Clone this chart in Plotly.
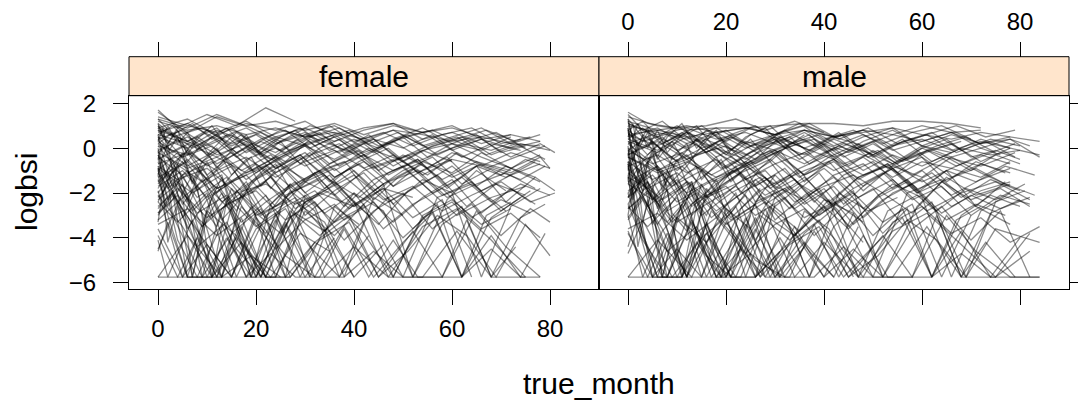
import plotly.graph_objects as go

# ---------------- data (read/estimated from the reference) ----------------
panels = ["female", "male"]
x_ticks = [0, 20, 40, 60, 80]
y_ticks = [2, 0, -2, -4, -6]
y_tick_text = ["2", "0", "\u22122", "\u22124", "\u22126"]

female_months = [
    [0, 6, 12, 18, 24, 30, 36, 42, 48, 54, 60, 66, 72, 78],
    [0, 3, 9, 15, 21, 27, 33, 40, 46, 52],
    [0, 4, 10, 16, 22, 28, 34, 40, 46, 52, 58, 64, 70, 76, 81],
    [0, 5, 11, 17, 23, 29, 35],
    [0, 6, 12, 18, 24, 30, 36, 42, 48, 54, 60, 66, 72],
    [0, 3, 8, 14, 20, 26, 32, 38, 44, 50, 56, 62, 68, 74, 79],
    [0, 2, 7, 13, 19, 25],
    [0, 6, 12, 18, 24, 30, 36, 42, 48, 54, 60, 66, 72, 78],
    [0, 4, 9, 15, 20, 26, 31, 37, 43],
    [0, 6, 12, 19, 25, 31, 37, 44, 50, 56, 62, 68, 74],
    [0, 3, 6, 12, 18, 24, 30, 36, 42, 48, 54, 60, 66, 72, 77],
    [0, 5, 10, 16, 22, 28, 34, 40],
    [0, 6, 12, 18, 24, 30, 36, 42, 48, 54, 60],
    [0, 4, 10, 16, 22, 28, 34, 40, 46, 52, 58, 64, 70, 76, 80],
    [0, 3, 9, 15, 21, 27, 33, 39, 45, 51, 57, 63, 69, 75],
    [0, 7, 13, 20, 26, 33, 39, 46, 52, 59, 65, 71],
    [0, 5, 11, 17, 23, 29, 35, 41, 47, 53, 59, 65, 71, 77],
    [0, 2, 6, 11, 16, 21, 26, 31],
    [0, 6, 12, 18, 24, 30, 36, 42, 48, 54, 60, 66, 72, 78, 81],
    [0, 4, 8, 14, 20, 26, 32, 38, 44, 50, 56, 62, 68, 74],
    [0, 6, 12, 18, 24, 30, 36, 42, 48, 54, 60, 66],
    [0, 3, 8, 13, 19, 24, 30, 36, 42, 48, 54, 60, 66, 72, 78],
    [0, 5, 10, 15, 20, 26, 32, 38, 44, 50, 56, 62, 68, 74, 79],
    [0, 6, 12, 18, 24, 30, 36, 42, 48, 54, 60, 66, 72, 78],
    [0, 4, 9, 14, 19, 24, 29, 34, 39, 44, 49, 54],
    [0, 3, 7, 12, 17, 22, 27, 32, 37, 42, 47, 52, 57, 62, 67, 72],
    [0, 6, 12, 18, 24, 30, 36, 42, 48, 54, 60, 66, 72, 78],
    [0, 5, 10, 16, 22, 28, 34, 40, 46, 52, 58, 64, 70, 76],
    [0, 4, 8, 12, 18, 24, 30, 36],
    [0, 6, 12, 18, 24, 30, 36, 42, 48, 54, 60, 66, 72, 78],
    [0, 3, 9, 15, 21, 27, 33, 39, 45, 51, 57, 63, 69, 75, 80],
    [0, 6, 12, 18, 24, 30, 36, 42, 48, 54, 60, 66, 72],
    [0, 4, 10, 16, 22, 28, 34, 40, 46, 52, 58, 64],
    [0, 6, 12, 18, 24, 30, 36, 42, 48, 54, 60, 66, 72, 78],
    [0, 2, 6, 10, 14, 19, 24, 29, 34, 40, 46],
    [0, 6, 12, 18, 24, 30, 36, 42, 48, 54, 60, 66, 72, 78],
    [0, 5, 11, 17, 23, 29, 35, 41, 47, 53, 59, 65, 71, 77, 81],
    [0, 3, 8, 14, 20, 27, 33, 40, 47, 54, 61, 68, 75],
    [0, 6, 12, 18, 24, 30, 36, 42, 48, 54, 60],
    [0, 4, 9, 15, 21, 27, 33, 39, 45, 51, 57, 63, 69, 75],
    [0, 6, 13, 19, 26, 32, 39, 45, 52, 58, 65, 71, 78],
    [0, 5, 10, 15, 20, 25, 30, 35, 40, 45, 50, 55, 60, 65, 70, 75],
    [0, 3, 7, 11, 16, 21, 26, 31, 36, 41],
    [0, 6, 12, 18, 24, 30, 36, 42, 48, 54, 60, 66, 72, 78, 80],
    [0, 4, 10, 16, 22, 28],
    [0, 6, 12, 18, 24, 30, 36, 42, 48, 54, 60, 66, 72, 78],
    [0, 2, 4, 7, 10, 14, 18, 23, 28, 33, 38, 44, 50, 56, 62, 68, 74],
    [0, 3, 6, 9, 13, 17, 22, 27, 32],
    [0, 2, 5, 9, 13, 18, 23, 28, 34, 40, 47, 54, 61, 68, 75],
    [0, 3, 7, 12, 18, 24, 30, 37, 44, 51, 58, 65, 72],
    [0, 4, 8, 12, 16, 20, 26, 32, 38, 44, 50, 56, 62, 68, 74, 78],
    [0, 2, 5, 8, 12, 16, 21, 26, 31, 37, 43, 49, 55, 61, 67, 73, 79],
    [0, 3, 6, 10, 15, 20, 25, 30, 36, 42],
    [0, 4, 9, 14, 19, 25, 31, 37, 43, 49, 55, 61, 67, 73, 79],
    [0, 2, 5, 9, 14, 19, 24, 30, 36, 42, 48, 54, 60, 66, 72],
    [0, 3, 7, 11, 15, 20, 25, 30, 35, 40, 46, 52, 58, 64, 70, 76],
    [0, 2, 6, 10, 15, 20, 26, 32, 38, 44, 50, 56, 62, 68, 74, 80],
    [0, 4, 8, 13, 18, 23, 28, 33, 38, 43, 48, 53, 58, 63, 68, 73],
    [0, 3, 6, 10, 14, 19, 24, 29, 35, 41, 47, 53, 59, 65, 71, 77],
    [0, 2, 4, 8, 12, 17, 22, 27],
    [0, 3, 7, 12, 17, 22, 28, 34, 40, 46, 52, 58, 64, 70, 76],
    [0, 4, 8, 12, 16, 21, 26, 31, 36, 42, 48, 54, 60, 66, 72, 78],
    [0, 3, 6, 9, 13, 18, 24, 30, 36, 43, 50, 57, 64, 71],
    [0, 5, 10, 15, 20, 25, 30, 35, 40, 45, 50, 55, 60, 65, 70, 75, 80],
    [0, 2, 6, 11, 16, 22, 28, 34, 40, 47, 54, 61, 68, 75],
    [0, 3, 7, 11, 16, 21, 26, 32, 38, 44, 50, 56, 62, 68, 74, 80],
    [0, 2, 5, 9, 13, 17, 22, 27, 32, 38, 44, 50],
    [0, 4, 9, 14, 20, 26, 32, 38, 44, 50, 56, 62, 68, 74, 79],
    [0, 3, 6, 10, 15, 20, 25, 31, 37, 43, 49, 55, 61, 67, 73],
    [0, 2, 5, 8, 12, 16, 20, 25, 30, 35, 41, 47, 53, 59, 65, 71, 77],
    [0, 1, 2, 3, 5, 7, 9, 12, 15, 18, 21, 24],
    [0, 1, 3, 4, 6, 8, 10, 13, 16, 19, 22, 26, 30],
    [0, 1, 2, 4, 6, 8, 11, 14, 17, 20, 24, 28, 32, 36],
    [0, 1, 3, 5, 7, 10, 13, 16, 19, 23, 27],
    [0, 2, 3, 5, 7, 9, 12, 15, 18, 22, 26, 30, 35],
    [0, 1, 2, 4, 6, 9, 12, 15, 18, 21, 25, 29, 33, 37, 41],
    [0, 1, 3, 5, 8, 11, 14, 18, 22, 26, 30],
    [0, 2, 4, 6, 8, 11, 14, 17, 21, 25, 29, 33],
    [0, 1, 2, 4, 7, 10, 13, 17, 21, 25],
    [0, 1, 3, 5, 7, 9, 12, 15, 19, 23, 27, 31, 36, 41, 46],
]
female_logbsi = [
    [1.2, 0.8, 1.0, 0.6, 0.9, 0.5, 0.7, 0.4, 0.8, 0.6, 0.3, 0.5, 0.2, 0.1],
    [0.4, -0.6, -1.5, -2.8, -5.75, -3.1, -2.0, -2.6, -1.8, -2.2],
    [-0.8, -1.4, -0.9, -2.0, -1.6, -2.5, -1.9, -1.2, -2.3, -1.7, -2.8, -2.1, -1.5, -2.4, -2.0],
    [-2.1, -3.5, -5.75, -4.2, -5.75, -3.8, -4.6],
    [0.9, 1.3, 0.6, 1.1, 0.8, 1.2, 0.5, 0.9, 1.1, 0.7, 1.0, 0.4, 0.6],
    [-1.5, -0.7, -2.2, -1.3, -3.0, -2.4, -1.1, -0.6, -1.9, -1.0, -0.4, -1.6, -0.9, -1.4, -0.8],
    [-4.1, -5.75, -3.2, -5.75, -4.8, -5.75],
    [0.1, -0.3, 0.4, -0.5, 0.0, -0.8, -0.2, 0.3, -0.6, -0.1, 0.2, -0.4, -0.9, -0.3],
    [-3.2, -2.4, -4.0, -5.75, -3.6, -2.7, -4.4, -5.75, -3.9],
    [1.6, 0.7, 1.4, 0.9, 0.3, 1.0, 0.6, -0.2, 0.5, 0.8, 0.2, -0.1, 0.4],
    [-0.3, -1.1, -0.5, -1.8, -1.2, -2.6, -1.5, -0.9, -2.0, -3.3, -2.2, -1.4, -2.9, -1.8, -2.5],
    [-1.9, -5.75, -2.8, -3.9, -5.75, -2.4, -3.3, -5.75],
    [0.6, 0.2, -0.4, 0.3, -0.9, -0.2, -1.3, -0.6, -1.7, -1.0, -0.5],
    [-2.6, -1.8, -3.1, -2.3, -1.5, -2.9, -3.7, -2.0, -2.8, -5.75, -3.4, -2.5, -3.9, -2.7, -3.3],
    [1.0, 0.5, 0.9, 0.2, 0.7, -0.1, 0.4, 0.8, 0.1, 0.6, -0.3, 0.3, 0.7, 0.0],
    [-0.9, -2.0, -1.2, -5.75, -2.1, -1.4, -2.7, -1.6, -5.75, -2.3, -1.0, -1.9],
    [0.3, -0.4, 0.1, -1.0, -0.3, -1.6, -0.7, -0.1, -1.2, -0.5, -1.8, -0.8, -1.3, -0.6],
    [-1.2, -3.0, -5.75, -2.2, -4.5, -5.75, -3.4, -5.75],
    [-0.1, 0.5, -0.3, 0.2, -0.6, 0.1, 0.6, -0.2, 0.3, -0.5, 0.0, 0.4, -0.4, 0.2, -0.2],
    [-2.3, -1.6, -2.9, -2.1, -3.5, -2.6, -1.9, -3.2, -2.4, -4.0, -2.8, -5.75, -3.1, -2.2],
    [1.3, 0.9, 1.5, 1.0, 1.2, 0.8, 1.1, 0.6, 1.0, 0.7, 0.9, 0.5],
    [-0.5, -1.7, -0.8, -2.4, -1.5, -0.7, -3.0, -1.9, -1.1, -2.5, -1.4, -2.0, -5.75, -2.6, -1.8],
    [-3.6, -5.75, -4.3, -5.75, -3.1, -4.8, -5.75, -3.5, -5.75, -4.2, -2.9, -5.75, -4.5, -5.75, -3.8],
    [0.7, 1.1, 0.4, 0.9, 0.2, 0.6, 1.0, 0.3, 0.8, 0.1, 0.5, 0.9, 0.2, 0.6],
    [-1.0, -0.2, -1.5, -0.6, -2.0, -1.1, -0.4, -1.8, -0.9, -2.3, -1.3, -0.7],
    [-2.9, -2.0, -3.4, -5.75, -2.6, -3.8, -1.9, -2.8, -5.75, -3.3, -2.2, -3.6, -2.5, -5.75, -3.0, -2.4],
    [0.2, -0.8, -0.1, -1.4, -0.5, 0.1, -1.0, -0.3, -1.7, -0.6, -1.1, -0.2, -0.9, -1.5],
    [-1.7, -1.0, -2.2, -1.4, -0.8, -1.9, -1.2, -2.6, -1.6, -0.9, -2.1, -1.5, -2.8, -1.9],
    [1.1, 0.4, -0.8, -2.5, -5.75, -3.2, -5.75, -4.0],
    [-0.7, -0.2, -1.0, -0.4, -1.3, -0.6, -0.1, -0.9, -0.3, -1.2, -0.5, -0.8, -0.2, -0.6],
    [-4.5, -3.0, -5.75, -3.8, -2.7, -5.75, -4.1, -3.3, -5.75, -4.6, -3.0, -3.9, -5.75, -3.4, -4.8],
    [0.5, 0.0, 0.8, 0.3, -0.2, 0.6, 0.1, -0.4, 0.4, 0.9, 0.2, -0.1, 0.5],
    [-2.4, -3.3, -2.0, -5.75, -3.0, -2.2, -3.7, -2.5, -1.8, -3.1, -2.3, -5.75],
    [-1.3, -0.6, -1.8, -1.1, -0.4, -1.5, -2.1, -1.0, -0.5, -1.6, -0.8, -1.9, -1.2, -0.7],
    [0.0, -1.5, -3.2, -5.75, -4.0, -5.75, -2.9, -5.75, -3.6, -5.75, -4.3],
    [1.4, 1.0, 0.7, 1.2, 0.5, 0.9, 0.3, 0.8, 1.1, 0.4, 0.7, 0.2, 0.6, 0.3],
    [-0.4, -1.2, -0.6, -1.9, -0.9, -0.3, -1.4, -2.2, -1.1, -0.5, -1.7, -0.8, -2.4, -1.3, -1.9],
    [-3.0, -2.1, -4.4, -3.3, -5.75, -2.8, -3.9, -2.4, -5.75, -3.5, -2.7, -4.1, -5.75],
    [0.8, 0.3, 0.9, -0.2, 0.5, 0.1, -0.5, 0.2, -0.8, -0.1, -0.6],
    [-1.1, -2.4, -1.5, -0.8, -2.9, -1.7, -1.0, -2.2, -3.4, -1.9, -1.2, -2.6, -1.6, -2.1],
    [-5.75, -3.9, -5.75, -2.6, -5.75, -4.2, -3.0, -5.75, -3.7, -5.75, -2.8, -4.4, -5.75],
    [0.4, 0.8, 0.1, 0.6, -0.3, 0.3, 0.7, -0.1, 0.4, 0.0, 0.5, -0.4, 0.2, 0.6, -0.2, 0.1],
    [-2.0, -1.1, -2.7, -5.75, -1.9, -3.0, -2.3, -5.75, -2.6, -3.4],
    [-0.2, -0.9, -0.4, -1.1, -0.6, -1.4, -0.8, -0.3, -1.0, -0.5, -1.3, -0.7, -1.1, -0.4, -0.9],
    [1.7, 0.9, 1.5, 1.0, 1.8, 1.2],
    [-3.4, -2.7, -3.9, -2.9, -4.5, -3.2, -2.5, -3.8, -5.75, -3.1, -2.4, -3.6, -2.9, -4.0],
    [0.8, 0.2, 0.9, 0.4, -0.3, 0.6, 0.1, -0.5, 0.3, 0.7, -0.2, 0.4, 0.0, 0.6, -0.4, 0.2, -0.1],
    [-0.6, -2.0, -5.75, -5.75, -5.75, -3.1, -5.75, -5.75, -4.2],
    [-1.8, -1.1, -2.5, -1.4, -3.2, -2.0, -1.3, -2.7, -1.9, -1.0, -2.4, -1.6, -3.0, -2.2, -1.7],
    [0.5, -0.2, 0.3, -0.7, 0.0, -1.1, -0.4, 0.2, -0.9, -0.3, -1.4, -0.6, -1.0],
    [-5.75, -5.75, -4.0, -5.75, -5.75, -5.75, -3.3, -5.75, -5.75, -4.6, -5.75, -5.75, -5.75, -3.9, -5.75, -5.75],
    [1.0, 0.3, -0.4, 0.5, -0.1, 0.7, 0.0, -0.6, 0.4, -0.2, 0.6, -0.5, 0.1, 0.5, -0.3, 0.2, -0.5],
    [-2.7, -1.9, -3.6, -2.3, -5.75, -2.9, -3.8, -2.1, -3.3, -2.6],
    [-0.2, 0.4, -0.6, 0.1, -1.0, -0.3, 0.3, -0.8, 0.0, -0.5, -1.2, -0.2, -0.9, -0.4, 0.1],
    [-1.4, -2.6, -1.6, -3.5, -2.2, -5.75, -5.75, -2.8, -3.9, -2.5, -5.75, -3.0, -2.3, -3.4, -2.7],
    [1.3, 0.6, 1.1, 0.4, 0.9, 0.2, 0.8, 0.5, 1.0, 0.3, 0.7, 0.1, 0.6, 0.9, 0.2, 0.5],
    [-0.9, -1.8, -1.0, -2.3, -1.5, -0.7, -1.9, -1.1, -2.6, -1.4, -0.8, -2.0, -1.3, -2.4, -1.6, -2.1],
    [-3.9, -5.75, -5.75, -3.4, -5.75, -4.7, -5.75, -5.75, -3.6, -5.75, -4.1, -5.75, -5.75, -3.2, -5.75, -4.4],
    [0.1, -0.7, -0.1, -1.2, -0.5, 0.2, -0.9, -0.3, -1.5, -0.6, 0.0, -1.1, -0.4, -1.7, -0.8, -1.3],
    [-0.8, -2.2, -4.1, -5.75, -5.75, -3.5, -5.75, -5.75],
    [-2.2, -1.4, -2.8, -1.7, -3.3, -2.4, -1.5, -2.9, -2.0, -3.6, -2.5, -1.8, -3.1, -2.3, -2.9],
    [0.9, 0.5, 0.1, 0.6, -0.2, 0.4, 0.8, 0.0, 0.5, -0.3, 0.3, 0.7, -0.1, 0.4, 0.0, 0.3],
    [-1.6, -0.9, -2.1, -5.75, -2.7, -1.8, -5.75, -2.4, -1.5, -3.0, -5.75, -2.2, -1.6, -2.8],
    [-0.5, 0.1, -0.8, -0.2, -1.1, -0.4, 0.2, -0.7, -0.1, -1.0, -0.3, -0.9, -0.2, -0.6, -1.2, -0.5, -0.9],
    [-4.6, -3.3, -5.75, -5.75, -4.0, -5.75, -2.9, -5.75, -4.4, -5.75, -5.75, -3.7, -5.75, -5.75],
    [0.2, 0.7, 0.0, 0.5, -0.4, 0.3, -0.2, 0.6, -0.1, 0.4, -0.6, 0.1, 0.5, -0.3, 0.2, -0.1],
    [-1.0, -2.3, -1.2, -2.9, -5.75, -2.0, -3.1, -1.6, -2.6, -5.75, -2.2, -3.0],
    [-2.9, -2.1, -3.5, -2.5, -1.9, -3.2, -2.4, -4.1, -2.8, -2.0, -3.6, -2.6, -5.75, -3.1, -2.5],
    [0.6, 1.0, 0.3, 0.8, 0.1, 0.6, -0.1, 0.5, 0.9, 0.2, 0.7, 0.0, 0.4, 0.8, 0.3],
    [-0.3, -1.3, -0.6, -1.9, -1.0, -2.4, -1.4, -0.8, -2.0, -1.2, -2.7, -1.5, -1.0, -2.2, -1.6, -1.1, -1.8],
    [0.6, -0.4, 0.2, -1.1, -0.3, -1.6, -0.8, -2.0, -1.2, -0.5, -1.7, -1.0],
    [-1.2, -0.3, -1.8, -0.7, -2.4, -1.3, -0.6, -1.9, -2.8, -1.5, -0.9, -2.2, -1.4],
    [1.1, 0.5, 1.0, 0.2, 0.7, -0.1, 0.5, 0.9, 0.3, -0.2, 0.4, 0.8, 0.1, 0.5],
    [-0.1, -1.4, -0.5, -2.1, -5.75, -2.7, -1.3, -3.4, -5.75, -2.5, -1.6],
    [-2.4, -1.5, -3.0, -2.0, -1.2, -2.6, -3.5, -1.8, -2.9, -2.1, -3.8, -2.4, -1.9],
    [0.3, 0.9, -0.2, 0.5, -0.6, 0.2, -0.9, -0.1, 0.6, -0.4, 0.3, -0.7, 0.0, 0.4, -0.3],
    [-0.9, -2.0, -1.0, -3.1, -1.7, -5.75, -2.4, -1.5, -3.0, -5.75, -2.2],
    [0.9, 0.2, 0.8, -0.3, 0.4, 1.0, 0.1, 0.6, -0.2, 0.5, 0.9, 0.3],
    [-3.3, -1.9, -4.2, -2.6, -5.75, -3.1, -2.0, -4.0, -5.75, -2.8],
    [-0.5, 0.2, -0.9, -0.2, -1.5, -0.6, 0.0, -1.2, -0.4, -1.8, -0.8, -0.2, -1.3, -0.7, -1.6],
]

male_months = [
    [0, 6, 12, 18, 24, 30, 36, 42, 48, 54, 60, 66, 72],
    [0, 2, 6, 12, 18, 24, 30, 36, 42, 48],
    [0, 4, 10, 16, 22, 28, 34, 40, 46, 52, 58, 64, 70, 76, 82],
    [0, 6, 12, 18, 24, 30, 36, 42, 48, 54, 60, 66, 72, 78, 84],
    [0, 3, 8, 13, 19, 25, 31],
    [0, 6, 12, 18, 24, 30, 36, 42, 48, 54, 60, 66, 72, 78],
    [0, 5, 10, 15, 21, 27, 33, 39, 45, 51, 57, 63, 69, 75, 81],
    [0, 4, 9, 14, 20, 26, 32, 38, 44, 50, 56, 62, 68],
    [0, 3, 7, 12, 17, 22, 27, 32, 37, 42, 47],
    [0, 6, 12, 18, 24, 30, 36, 42, 48, 54, 60, 66, 72, 78, 84],
    [0, 3, 6, 12, 18, 24, 30, 36, 42, 48, 54, 60, 66, 72, 78],
    [0, 5, 10, 16, 22, 28, 34, 40, 46],
    [0, 6, 12, 18, 24, 30, 36, 42, 48, 54, 60, 66, 72, 76],
    [0, 4, 10, 16, 22, 28, 34, 40, 46, 52, 58, 64, 70, 76, 82],
    [0, 3, 9, 15, 21, 27, 33, 39, 45, 51, 57, 63, 69, 75],
    [0, 7, 13, 20, 26, 33, 39, 46, 52, 59, 65, 71, 78],
    [0, 5, 11, 17, 23, 29, 35, 41, 47, 53, 59, 65, 71, 77, 83],
    [0, 2, 6, 11, 16, 21, 26, 31, 36],
    [0, 6, 12, 18, 24, 30, 36, 42, 48, 54, 60, 66, 72, 78],
    [0, 4, 8, 14, 20, 26, 32, 38, 44, 50, 56, 62, 68, 74, 80],
    [0, 6, 12, 18, 24, 30, 36, 42, 48, 54, 60, 66, 72],
    [0, 3, 8, 13, 19, 24, 30, 36, 42, 48, 54, 60, 66, 72, 78],
    [0, 5, 10, 15, 20, 26, 32, 38, 44, 50, 56, 62, 68, 74, 80],
    [0, 6, 12, 18, 24, 30, 36, 42, 48, 54, 60, 66, 72, 78, 82],
    [0, 4, 9, 14, 19, 24, 29, 34, 39, 44, 49, 54, 59],
    [0, 3, 7, 12, 17, 22, 27, 32, 37, 42, 47, 52, 57, 62, 67, 72],
    [0, 6, 12, 18, 24, 30, 36, 42, 48, 54, 60, 66, 72, 78],
    [0, 5, 10, 16, 22, 28, 34, 40, 46, 52, 58, 64, 70, 76, 82],
    [0, 4, 8, 12, 18, 24, 30, 36, 42],
    [0, 6, 12, 18, 24, 30, 36, 42, 48, 54, 60, 66, 72, 78],
    [0, 3, 9, 15, 21, 27, 33, 39, 45, 51, 57, 63, 69, 75, 84],
    [0, 6, 12, 18, 24, 30, 36, 42, 48, 54, 60, 66, 72, 78],
    [0, 4, 10, 16, 22, 28, 34, 40, 46, 52, 58, 64, 70],
    [0, 6, 12, 18, 24, 30, 36, 42, 48, 54, 60, 66, 72, 78],
    [0, 2, 6, 10, 14, 19, 24, 29, 34, 40, 46, 52],
    [0, 6, 12, 18, 24, 30, 36, 42, 48, 54, 60, 66, 72, 78, 84],
    [0, 5, 11, 17, 23, 29, 35, 41, 47, 53, 59, 65, 71, 77],
    [0, 3, 8, 14, 20, 27, 33, 40, 47, 54, 61, 68, 75, 82],
    [0, 6, 12, 18, 24, 30, 36, 42, 48, 54, 60, 66],
    [0, 4, 9, 15, 21, 27, 33, 39, 45, 51, 57, 63, 69, 75, 81],
    [0, 6, 13, 19, 26, 32, 39, 45, 52, 58, 65, 71, 78, 84],
    [0, 5, 10, 15, 20, 25, 30, 35, 40, 45, 50, 55, 60, 65, 70, 75, 80],
    [0, 3, 7, 11, 16, 21, 26, 31, 36, 41, 46],
    [0, 6, 12, 18, 24, 30, 36, 42, 48, 54, 60, 66, 72, 78],
    [0, 4, 10, 16, 22, 28, 34, 40],
    [0, 6, 12, 18, 24, 30, 36, 42, 48, 54, 60, 66, 72, 78, 84],
    [0, 1, 3, 6, 10, 14, 18, 23, 28, 33, 38, 44, 50, 56, 62, 68, 74, 80],
    [0, 2, 5, 8, 12, 16, 21, 26, 31, 36],
    [0, 2, 5, 9, 13, 18, 23, 28, 34, 40, 47, 54, 61, 68, 75, 82],
    [0, 3, 7, 12, 18, 24, 30, 37, 44, 51, 58, 65, 72, 79],
    [0, 4, 8, 12, 16, 20, 26, 32, 38, 44, 50, 56, 62, 68, 74, 80, 84],
    [0, 1, 4, 8, 12, 16, 21, 26, 31, 37, 43, 49, 55, 61, 67, 73, 79],
    [0, 2, 6, 10, 15, 20, 25, 30, 36, 42, 48],
    [0, 4, 9, 14, 19, 25, 31, 37, 43, 49, 55, 61, 67, 73, 79],
    [0, 1, 4, 8, 13, 18, 23, 29, 35, 41, 47, 53, 59, 65, 71, 77],
    [0, 3, 7, 11, 15, 20, 25, 30, 35, 40, 46, 52, 58, 64, 70],
    [0, 2, 6, 10, 15, 20, 26, 32, 38, 44, 50, 56, 62, 68, 74, 80],
    [0, 4, 8, 13, 18, 23, 28, 33, 38, 43, 48, 53, 58, 63, 68, 73, 79],
    [0, 3, 6, 10, 14, 19, 24, 29, 35, 41, 47, 53, 59, 65, 71, 77],
    [0, 1, 3, 7, 11, 16, 21, 26, 31],
    [0, 3, 7, 12, 17, 22, 28, 34, 40, 46, 52, 58, 64, 70, 76, 82],
    [0, 4, 8, 12, 16, 21, 26, 31, 36, 42, 48, 54, 60, 66, 72, 78],
    [0, 1, 4, 8, 13, 18, 24, 30, 36, 43, 50, 57, 64, 71, 78],
    [0, 5, 10, 15, 20, 25, 30, 35, 40, 45, 50, 55, 60, 65, 70, 75, 80],
    [0, 2, 6, 11, 16, 22, 28, 34, 40, 47, 54, 61, 68, 75, 82],
    [0, 3, 7, 11, 16, 21, 26, 32, 38, 44, 50, 56, 62, 68, 74, 80],
    [0, 1, 4, 8, 12, 16, 21, 26, 31, 37, 43, 49, 55],
    [0, 4, 9, 14, 20, 26, 32, 38, 44, 50, 56, 62, 68, 74, 80],
    [0, 3, 6, 10, 15, 20, 25, 31, 37, 43, 49, 55, 61, 67, 73, 79],
    [0, 2, 5, 8, 12, 16, 20, 25, 30, 35, 41, 47, 53, 59, 65, 71, 77, 83],
    [0, 1, 2, 3, 5, 7, 9, 12, 15, 18, 21, 24],
    [0, 1, 3, 4, 6, 8, 10, 13, 16, 19, 22, 26, 30],
    [0, 1, 2, 4, 6, 8, 11, 14, 17, 20, 24, 28, 32, 36],
    [0, 1, 3, 5, 7, 10, 13, 16, 19, 23, 27],
    [0, 2, 3, 5, 7, 9, 12, 15, 18, 22, 26, 30, 35],
    [0, 1, 2, 4, 6, 9, 12, 15, 18, 21, 25, 29, 33, 37, 41],
    [0, 1, 3, 5, 8, 11, 14, 18, 22, 26, 30],
    [0, 2, 4, 6, 8, 11, 14, 17, 21, 25, 29, 33],
    [0, 1, 2, 4, 7, 10, 13, 17, 21, 25],
    [0, 1, 3, 5, 7, 9, 12, 15, 19, 23, 27, 31, 36, 41, 46],
]
male_logbsi = [
    [1.4, 1.0, 0.8, 0.9, 0.9, 1.0, 1.1, 1.1, 1.0, 1.2, 1.2, 1.1, 0.9],
    [0.9, -1.2, -2.6, -5.75, -3.4, -2.1, -5.75, -3.8, -2.7, -4.2],
    [-1.3, -1.8, -1.1, -2.2, -1.6, -1.0, -2.4, -1.7, -1.2, -2.0, -2.9, -1.5, -2.3, -1.8, -2.6],
    [0.6, 0.8, 0.5, 0.7, 0.9, 0.6, 0.8, 0.5, 0.7, 0.9, 0.6, 0.4, 0.7, 0.5, 0.3],
    [-2.5, -4.1, -5.75, -3.3, -5.75, -4.7, -5.75],
    [-0.4, -1.0, -0.5, -1.5, -0.8, -0.2, -1.2, -0.6, -1.7, -0.9, -0.4, -1.3, -0.7, -1.1],
    [-1.6, -2.3, -1.4, -3.0, -2.0, -1.3, -2.7, -1.8, -3.5, -2.2, -1.5, -2.8, -5.75, -2.4, -1.9],
    [0.2, -0.5, 0.3, -0.3, 0.1, -0.7, 0.0, 0.4, -0.4, 0.2, -0.6, -0.1, 0.3],
    [-3.0, -5.75, -3.7, -2.4, -5.75, -4.0, -5.75, -3.2, -4.6, -5.75, -3.5],
    [1.1, 0.6, 0.9, 0.4, 0.7, 0.2, 0.8, 0.5, 0.1, 0.6, 0.3, 0.7, 0.2, 0.4, -0.4],
    [-0.9, -1.6, -2.4, -1.5, -2.8, -1.9, -1.2, -2.5, -1.7, -3.1, -2.0, -1.4, -2.6, -1.9, -1.5],
    [-2.0, -5.75, -3.1, -4.2, -2.6, -5.75, -3.5, -5.75, -2.9],
    [0.3, -0.2, 0.5, 0.0, -0.5, 0.2, -0.3, 0.4, -0.1, -0.7, 0.1, -0.4, 0.0, -0.3],
    [-2.7, -2.0, -3.3, -2.5, -1.7, -3.0, -3.9, -2.3, -2.9, -5.75, -3.6, -2.6, -4.1, -2.8, -5.75],
    [0.8, 0.3, 0.7, 0.0, 0.5, -0.3, 0.2, 0.6, -0.1, 0.4, -0.5, 0.1, 0.5, -0.2],
    [-1.1, -2.3, -1.5, -5.75, -2.4, -1.7, -3.0, -1.9, -5.75, -2.6, -1.3, -2.1, -1.6],
    [-0.1, -0.7, -0.2, -1.2, -0.5, -1.8, -0.9, -0.3, -1.4, -0.7, -2.0, -1.0, -1.5, -0.8, -1.2],
    [-1.4, -3.3, -5.75, -2.5, -4.8, -5.75, -3.6, -5.75, -4.4],
    [-0.3, 0.3, -0.5, 0.0, -0.8, -0.1, 0.4, -0.4, 0.1, -0.7, -0.2, 0.2, -0.6, 0.0],
    [-2.2, -1.5, -2.8, -2.0, -3.4, -2.5, -1.8, -3.1, -2.3, -3.9, -2.7, -5.75, -3.0, -2.1, -2.6],
    [1.2, 0.8, 1.0, 0.7, 0.9, 0.6, 1.0, 0.5, 0.8, 0.6, 1.0, 0.7, 0.8],
    [-0.6, -1.9, -1.0, -2.6, -1.7, -0.9, -3.2, -2.1, -1.3, -2.7, -1.6, -2.2, -5.75, -2.8, -2.0],
    [-3.8, -5.75, -4.5, -5.75, -3.3, -5.0, -5.75, -3.7, -5.75, -4.4, -3.1, -5.75, -4.7, -5.75, -4.0],
    [0.5, 0.9, 0.2, 0.7, 0.0, 0.4, 0.8, 0.1, 0.6, -0.1, 0.3, 0.7, 0.0, 0.4, 0.1],
    [-1.2, -0.4, -1.7, -0.8, -2.2, -1.3, -0.6, -2.0, -1.1, -2.5, -1.5, -0.9, -1.8],
    [-3.1, -2.2, -3.6, -5.75, -2.8, -4.0, -2.1, -3.0, -5.75, -3.5, -2.4, -3.8, -2.7, -5.75, -3.2, -2.6],
    [0.0, -1.0, -0.3, -1.6, -0.7, -0.1, -1.2, -0.5, -1.9, -0.8, -1.3, -0.4, -1.1, -1.7],
    [-1.9, -1.2, -2.4, -1.6, -1.0, -2.1, -1.4, -2.8, -1.8, -1.1, -2.3, -1.7, -3.0, -2.1, -2.5],
    [1.3, 0.2, -1.0, -2.7, -5.75, -3.4, -5.75, -4.2, -5.75],
    [-0.8, -0.3, -1.1, -0.5, -1.4, -0.7, -0.2, -1.0, -0.4, -1.3, -0.6, -0.9, -0.3, -0.7],
    [-4.7, -3.2, -5.75, -4.0, -2.9, -5.75, -4.3, -3.5, -5.75, -4.8, -3.2, -4.1, -5.75, -3.6, -4.2],
    [0.4, -0.1, 0.7, 0.2, -0.3, 0.5, 0.0, -0.5, 0.3, 0.8, 0.1, -0.2, 0.4, 0.0],
    [-2.6, -3.5, -2.2, -5.75, -3.2, -2.4, -3.9, -2.7, -2.0, -3.3, -2.5, -5.75, -3.0],
    [-1.5, -0.8, -2.0, -1.3, -0.6, -1.7, -2.3, -1.2, -0.7, -1.8, -1.0, -2.1, -1.4, -0.9],
    [-0.2, -1.7, -3.4, -5.75, -4.2, -5.75, -3.1, -5.75, -3.8, -5.75, -4.5, -5.75],
    [1.0, 0.7, 0.4, 0.9, 0.2, 0.6, 0.0, 0.5, 0.8, 0.1, 0.4, -0.1, 0.3, 0.0, -0.3],
    [-0.6, -1.4, -0.8, -2.1, -1.1, -0.5, -1.6, -2.4, -1.3, -0.7, -1.9, -1.0, -2.6, -1.5],
    [-3.2, -2.3, -4.6, -3.5, -5.75, -3.0, -4.1, -2.6, -5.75, -3.7, -2.9, -4.3, -5.75, -3.8],
    [0.6, 0.1, 0.7, -0.4, 0.3, -0.1, -0.7, 0.0, -1.0, -0.3, -0.8, -0.2],
    [-1.3, -2.6, -1.7, -1.0, -3.1, -1.9, -1.2, -2.4, -3.6, -2.1, -1.4, -2.8, -1.8, -2.3, -1.6],
    [-5.75, -4.1, -5.75, -2.8, -5.75, -4.4, -3.2, -5.75, -3.9, -5.75, -3.0, -4.6, -5.75, -5.75],
    [0.2, 0.6, -0.1, 0.4, -0.5, 0.1, 0.5, -0.3, 0.2, -0.2, 0.3, -0.6, 0.0, 0.4, -0.4, -0.1, -0.5],
    [-2.2, -1.3, -2.9, -5.75, -2.1, -3.2, -2.5, -5.75, -2.8, -3.6, -5.75],
    [-0.4, -1.1, -0.6, -1.3, -0.8, -1.6, -1.0, -0.5, -1.2, -0.7, -1.5, -0.9, -1.3, -0.6],
    [1.6, 1.1, 0.9, 1.0, 1.3, 0.8, 1.2, 0.7],
    [-3.6, -2.9, -4.1, -3.1, -4.7, -3.4, -2.7, -4.0, -5.75, -3.3, -2.6, -3.8, -3.1, -4.2, -3.5],
    [0.9, -0.5, 0.6, 0.1, -0.6, 0.4, -0.2, -0.8, 0.1, 0.5, -0.4, 0.2, -0.3, 0.4, -0.6, 0.0, -0.3, -0.1],
    [-0.3, -2.4, -5.75, -5.75, -5.75, -3.4, -5.75, -5.75, -4.0, -5.75],
    [-1.6, -0.9, -2.3, -1.2, -3.0, -1.8, -1.1, -2.5, -1.7, -0.9, -2.2, -1.4, -2.8, -2.0, -1.5, -2.3],
    [0.7, 0.0, 0.5, -0.5, 0.2, -0.9, -0.2, 0.4, -0.7, -0.1, -1.2, -0.4, -0.8, -0.2],
    [-5.75, -5.75, -3.8, -5.75, -5.75, -5.75, -3.1, -5.75, -5.75, -4.4, -5.75, -5.75, -5.75, -3.7, -5.75, -5.75, -5.75],
    [1.2, 0.4, -0.3, 0.6, 0.0, 0.8, 0.1, -0.5, 0.5, -0.1, 0.7, -0.4, 0.2, 0.6, -0.2, 0.3, -0.4],
    [-2.5, -1.7, -3.4, -2.1, -5.75, -2.7, -3.6, -1.9, -3.1, -2.4, -3.3],
    [-0.1, 0.5, -0.5, 0.2, -0.9, -0.2, 0.4, -0.7, 0.1, -0.4, -1.1, -0.1, -0.8, -0.3, 0.2],
    [-1.2, -2.8, -1.5, -3.3, -2.0, -5.75, -5.75, -2.6, -3.7, -2.3, -5.75, -2.8, -2.1, -3.2, -2.5, -3.0],
    [1.5, 0.8, 1.2, 0.5, 1.0, 0.3, 0.9, 0.6, 1.1, 0.4, 0.8, 0.2, 0.7, 1.0, 0.4],
    [-0.7, -1.6, -0.8, -2.1, -1.3, -0.5, -1.7, -0.9, -2.4, -1.2, -0.6, -1.8, -1.1, -2.2, -1.4, -1.9],
    [-3.7, -5.75, -5.75, -3.2, -5.75, -4.5, -5.75, -5.75, -3.4, -5.75, -3.9, -5.75, -5.75, -3.0, -5.75, -4.2, -5.75],
    [0.3, -0.5, 0.1, -1.0, -0.3, 0.4, -0.7, -0.1, -1.3, -0.4, 0.2, -0.9, -0.2, -1.5, -0.6, -1.1],
    [-0.6, -2.0, -3.9, -5.75, -5.75, -3.3, -5.75, -5.75, -4.6],
    [-2.0, -1.2, -2.6, -1.5, -3.1, -2.2, -1.3, -2.7, -1.8, -3.4, -2.3, -1.6, -2.9, -2.1, -2.7, -2.2],
    [1.1, 0.7, 0.3, 0.8, 0.0, 0.6, 1.0, 0.2, 0.7, -0.1, 0.5, 0.9, 0.1, 0.6, 0.2, 0.5],
    [-1.4, -0.4, -1.9, -5.75, -2.5, -1.6, -5.75, -2.2, -1.3, -2.8, -5.75, -2.0, -1.4, -2.6, -3.4],
    [-0.3, 0.3, -0.6, 0.0, -0.9, -0.2, 0.4, -0.5, 0.1, -0.8, -0.1, -0.7, 0.0, -0.4, -1.0, -0.3, -0.7],
    [-4.4, -3.1, -5.75, -5.75, -3.8, -5.75, -2.7, -5.75, -4.2, -5.75, -5.75, -3.5, -5.75, -5.75, -4.6],
    [0.4, 0.9, 0.2, 0.7, -0.2, 0.5, 0.0, 0.8, 0.1, 0.6, -0.4, 0.3, 0.7, -0.1, 0.4, 0.1],
    [-0.8, -2.1, -1.0, -2.7, -5.75, -1.8, -2.9, -1.4, -2.4, -5.75, -2.0, -2.8, -2.2],
    [-2.7, -1.9, -3.3, -2.3, -1.7, -3.0, -2.2, -3.9, -2.6, -1.8, -3.4, -2.4, -5.75, -2.9, -2.3],
    [0.8, 1.2, 0.5, 1.0, 0.3, 0.8, 0.1, 0.7, 1.1, 0.4, 0.9, 0.2, 0.6, 1.0, 0.5, 0.8],
    [-0.1, -1.1, -0.4, -1.7, -0.8, -2.2, -1.2, -0.6, -1.8, -1.0, -2.5, -1.3, -0.8, -2.0, -1.4, -0.9, -1.6, -2.1],
    [0.8, -0.6, 0.3, -1.3, -0.2, -1.9, -0.7, -2.3, -1.0, -0.4, -1.5, -0.9],
    [-1.0, -0.1, -2.0, -0.6, -2.7, -1.4, -0.5, -2.1, -3.0, -1.6, -0.8, -2.4, -1.2],
    [1.3, 0.4, 1.1, 0.0, 0.8, -0.2, 0.6, 1.0, 0.2, -0.3, 0.5, 0.9, 0.0, 0.6],
    [0.1, -1.7, -0.6, -2.4, -5.75, -3.0, -1.5, -3.6, -5.75, -2.7, -1.8],
    [-2.2, -1.3, -3.2, -1.8, -1.0, -2.9, -3.7, -1.6, -3.1, -2.0, -4.1, -2.6, -1.7],
    [0.5, 1.1, -0.1, 0.7, -0.5, 0.3, -0.8, 0.1, 0.8, -0.3, 0.4, -0.6, 0.2, 0.6, -0.2],
    [-0.7, -2.3, -1.1, -3.4, -1.8, -5.75, -2.6, -1.4, -3.3, -5.75, -2.5],
    [1.0, 0.1, 0.9, -0.4, 0.5, 1.1, 0.0, 0.7, -0.1, 0.6, 1.0, 0.2],
    [-3.0, -1.7, -4.4, -2.3, -5.75, -3.3, -1.8, -4.2, -5.75, -3.0],
    [-0.3, 0.4, -1.1, -0.1, -1.7, -0.4, 0.2, -1.4, -0.5, -2.0, -0.9, -0.1, -1.5, -0.6, -1.8],
]

# ---------------- layout geometry ----------------
W, H = 1078, 402
FONT = "Liberation Sans, Arial, Helvetica, sans-serif"
x_left = [129 / W, 599 / W]
x_right = [599 / W, 1069 / W]
y_dom = [(H - 288.5) / H, (H - 95.7) / H]
strip_top = (H - 56.7) / H
x_range = [-5.92, 90.0]
y_range = [-6.26, 2.34]
LINE = "rgba(0,0,0,0.45)"

fig = go.Figure()
for months, vals in zip(female_months, female_logbsi):
    fig.add_trace(go.Scatter(x=months, y=vals, mode="lines", xaxis="x", yaxis="y",
                             line=dict(color=LINE, width=1.3), showlegend=False, hoverinfo="skip"))
for months, vals in zip(male_months, male_logbsi):
    fig.add_trace(go.Scatter(x=months, y=vals, mode="lines", xaxis="x2", yaxis="y2",
                             line=dict(color=LINE, width=1.3), showlegend=False, hoverinfo="skip"))
# placeholders so the top tick axes are drawn
fig.add_trace(go.Scatter(x=[None], y=[None], xaxis="x3", yaxis="y", showlegend=False, hoverinfo="skip"))
fig.add_trace(go.Scatter(x=[None], y=[None], xaxis="x4", yaxis="y2", showlegend=False, hoverinfo="skip"))

tickfont = dict(family=FONT, size=24, color="black")
common_x = dict(range=x_range, tickvals=x_ticks, ticks="outside", ticklen=15, tickwidth=1,
                tickcolor="black", showgrid=False, zeroline=False, tickfont=tickfont,
                fixedrange=True, automargin=False)
common_y = dict(domain=y_dom, range=y_range, tickvals=y_ticks, ticktext=y_tick_text,
                ticks="outside", ticklen=15, tickwidth=1, tickcolor="black", showline=True,
                linecolor="black", linewidth=1, mirror=True, showgrid=False, zeroline=False,
                tickfont=tickfont, fixedrange=True, automargin=False)

fig.update_layout(
    template="none",
    width=W, height=H, autosize=False,
    margin=dict(l=0, r=0, t=0, b=0, pad=0),
    paper_bgcolor="white", plot_bgcolor="white",
    font=dict(family=FONT, color="black"),
    xaxis=dict(domain=x_left, anchor="y", showline=True, linecolor="black", linewidth=1,
               mirror=True, ticklabelstandoff=4, **common_x),
    xaxis2=dict(domain=x_right, anchor="y2", showline=True, linecolor="black", linewidth=1,
                mirror=True, showticklabels=False, **common_x),
    xaxis3=dict(overlaying="x", side="top", anchor="free", position=strip_top,
                showline=False, showticklabels=False, **common_x),
    xaxis4=dict(overlaying="x2", side="top", anchor="free", position=strip_top,
                showline=False, showticklabels=True, ticklabelstandoff=2, **common_x),
    yaxis=dict(anchor="x", ticklabelstandoff=12, **common_y),
    yaxis2=dict(anchor="x2", side="right", showticklabels=False, **common_y),
    shapes=[
        dict(type="rect", xref="paper", yref="paper", x0=x_left[0], x1=x_left[1],
             y0=y_dom[1], y1=strip_top, fillcolor="#FFE5CC", line=dict(color="black", width=1),
             layer="below"),
        dict(type="rect", xref="paper", yref="paper", x0=x_right[0], x1=x_right[1],
             y0=y_dom[1], y1=strip_top, fillcolor="#FFE5CC", line=dict(color="black", width=1),
             layer="below"),
    ],
    annotations=[
        dict(text=panels[0], xref="paper", yref="paper", x=sum(x_left) / 2, y=(y_dom[1] + strip_top) / 2,
             showarrow=False, xanchor="center", yanchor="middle", font=dict(family=FONT, size=30, color="black")),
        dict(text=panels[1], xref="paper", yref="paper", x=sum(x_right) / 2, y=(y_dom[1] + strip_top) / 2,
             showarrow=False, xanchor="center", yanchor="middle", font=dict(family=FONT, size=30, color="black")),
        dict(text="true_month", xref="paper", yref="paper", x=(x_left[0] + x_right[1]) / 2, y=(H - 383) / H,
             showarrow=False, xanchor="center", yanchor="middle", font=dict(family=FONT, size=30, color="black")),
        dict(text="logbsi", xref="paper", yref="paper", x=26 / W, y=(H - 192) / H, textangle=-90,
             showarrow=False, xanchor="center", yanchor="middle", font=dict(family=FONT, size=30, color="black")),
    ],
)

fig.write_html("out.html",
               config={"displayModeBar": False, "staticPlot": True},
               post_script="document.body.style.margin='0';document.body.style.overflow='hidden';")
